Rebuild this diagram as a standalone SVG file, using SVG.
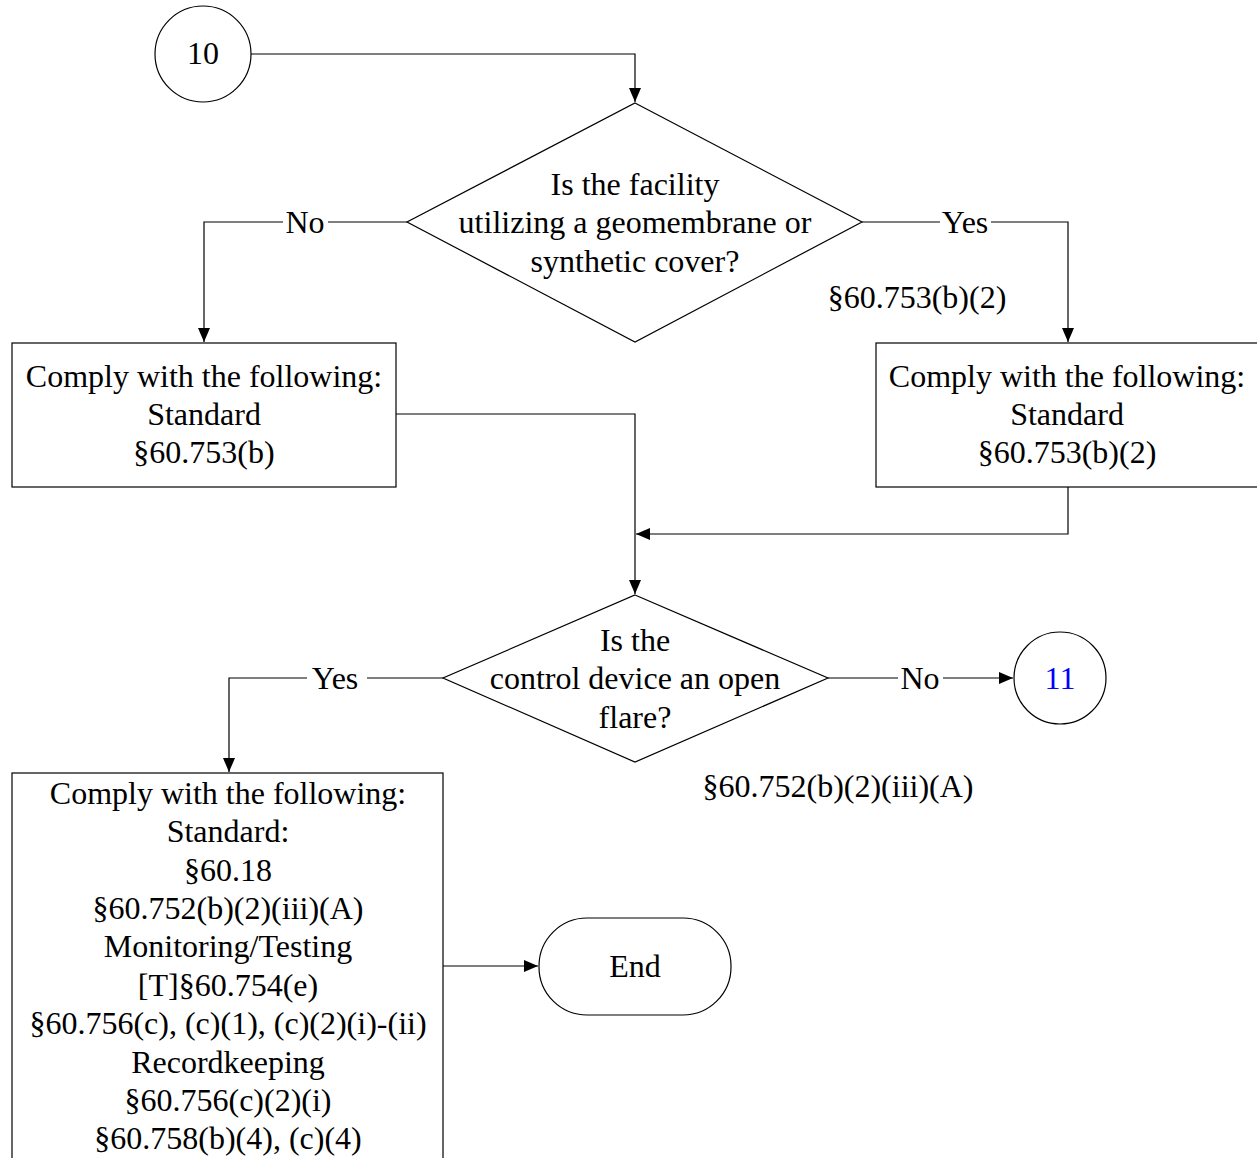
<svg xmlns="http://www.w3.org/2000/svg" width="1257" height="1158" viewBox="0 0 1257 1158">
<style>
.s{fill:#fff;stroke:#000;stroke-width:1.2}
.c{fill:none;stroke:#000;stroke-width:1.2}
text{font-family:"Liberation Serif","Times New Roman",serif;font-size:32px;fill:#000;text-anchor:middle}
.blue{fill:#0000ff}
</style>
<defs>
<marker id="a" viewBox="0 0 14 12" refX="14" refY="6" markerWidth="14" markerHeight="12" markerUnits="userSpaceOnUse" orient="auto">
<path d="M0,0 L14,6 L0,12 Z" fill="#000"/>
</marker>
</defs>
<rect width="1257" height="1158" fill="#fff"/>
<g id="connectors">
<path class="c" d="M251,54 H635 V102" marker-end="url(#a)"/>
<path class="c" d="M407,222 H328"/>
<path class="c" d="M283,222 H204 V342" marker-end="url(#a)"/>
<text x="305" y="233">No</text>
<path class="c" d="M862,222 H940"/>
<path class="c" d="M991,222 H1068 V342" marker-end="url(#a)"/>
<text x="965" y="233">Yes</text>
<path class="c" d="M396,414 H635 V594" marker-end="url(#a)"/>
<path class="c" d="M1068,487 V534 H636" marker-end="url(#a)"/>
<path class="c" d="M443,678 H367"/>
<path class="c" d="M307,678 H229 V772" marker-end="url(#a)"/>
<text x="335" y="689">Yes</text>
<path class="c" d="M828,678 H898"/>
<path class="c" d="M943,678 H1013" marker-end="url(#a)"/>
<text x="920" y="689">No</text>
<path class="c" d="M443,966 H538" marker-end="url(#a)"/>
</g>
<g id="n10">
<circle class="s" cx="203" cy="54" r="48"/>
<text x="203" y="64">10</text>
</g>
<g id="d1">
<polygon class="s" points="635,103 862,222 635,342 407,222"/>
<text x="635" y="195">Is the facility</text>
<text x="635" y="233">utilizing a geomembrane or</text>
<text x="635" y="272">synthetic cover?</text>
</g>
<g id="note1">
<text x="917" y="308">§60.753(b)(2)</text>
</g>
<g id="b1">
<rect class="s" x="12" y="343" width="384" height="144"/>
<text x="204" y="387">Comply with the following:</text>
<text x="204" y="425">Standard</text>
<text x="204" y="463">§60.753(b)</text>
</g>
<g id="b2">
<rect class="s" x="876" y="343" width="384" height="144"/>
<text x="1067" y="387">Comply with the following:</text>
<text x="1067" y="425">Standard</text>
<text x="1067" y="463">§60.753(b)(2)</text>
</g>
<g id="d2">
<polygon class="s" points="635,595 828,678 635,762 443,678"/>
<text x="635" y="651">Is the</text>
<text x="635" y="689">control device an open</text>
<text x="635" y="728">flare?</text>
</g>
<g id="n11">
<circle class="s" cx="1060" cy="678" r="46"/>
<text class="blue" x="1060" y="689">11</text>
</g>
<g id="note2">
<text x="838" y="797">§60.752(b)(2)(iii)(A)</text>
</g>
<g id="b3">
<rect class="s" x="12" y="773" width="431" height="400"/>
<text x="228" y="804">Comply with the following:</text>
<text x="228" y="842">Standard:</text>
<text x="228" y="881">§60.18</text>
<text x="228" y="919">§60.752(b)(2)(iii)(A)</text>
<text x="228" y="957">Monitoring/Testing</text>
<text x="228" y="996">[T]§60.754(e)</text>
<text x="228" y="1034">§60.756(c), (c)(1), (c)(2)(i)-(ii)</text>
<text x="228" y="1073">Recordkeeping</text>
<text x="228" y="1111">§60.756(c)(2)(i)</text>
<text x="228" y="1149">§60.758(b)(4), (c)(4)</text>
</g>
<g id="end">
<rect class="s" x="539" y="918" width="192" height="97" rx="48" ry="48"/>
<text x="635" y="977">End</text>
</g>
</svg>
